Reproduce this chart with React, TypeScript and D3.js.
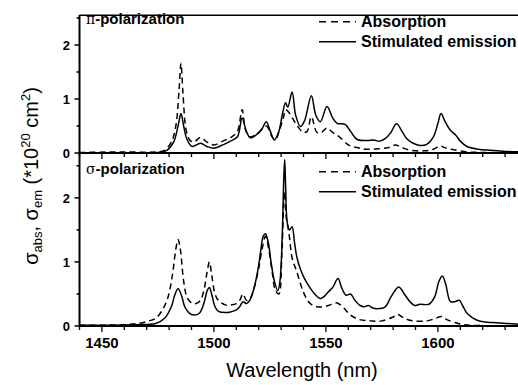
import * as d3 from 'd3';

// wavelength (nm), cross-section (1e-20 cm^2)
const piAbsorption: [number, number][] = [
  [1440, 0.01], [1460, 0.02], [1475, 0.02], [1478, 0.05], [1481, 0.2], [1483, 0.5], [1484.5, 1.2],
  [1485.3, 1.66], [1486.2, 1.1], [1487.5, 0.45], [1489, 0.25], [1491, 0.2], [1494, 0.29], [1497, 0.2],
  [1500, 0.15], [1504, 0.22], [1508, 0.3], [1510.5, 0.4], [1512.6, 0.8], [1514, 0.45], [1516, 0.3],
  [1519.3, 0.35], [1523.4, 0.5], [1526, 0.3], [1527.5, 0.25], [1529.5, 0.45], [1531, 0.65], [1532, 0.8],
  [1533.5, 0.75], [1535, 0.65], [1537.6, 0.48], [1540, 0.38], [1541.6, 0.4], [1543.5, 0.67], [1546, 0.38],
  [1548, 0.38], [1550.5, 0.46], [1553, 0.38], [1556, 0.3], [1560, 0.15], [1564, 0.1], [1568, 0.07],
  [1574, 0.08], [1578, 0.1], [1581, 0.15], [1584, 0.1], [1588, 0.05], [1594, 0.04], [1598, 0.07],
  [1601, 0.13], [1603, 0.1], [1606, 0.07], [1613, 0.02], [1620, 0.01], [1640, 0.0],
];

const piEmission: [number, number][] = [
  [1440, 0.0], [1475, 0.01], [1479, 0.05], [1482, 0.2], [1484, 0.5], [1485.3, 0.73], [1486.5, 0.5],
  [1488, 0.25], [1490.3, 0.12], [1494, 0.18], [1497, 0.12], [1500, 0.09], [1504, 0.15], [1507.4, 0.22],
  [1510.5, 0.3], [1512.6, 0.65], [1514.5, 0.4], [1516.3, 0.28], [1519.3, 0.35], [1521.5, 0.45],
  [1523.4, 0.58], [1525.2, 0.4], [1527, 0.24], [1529, 0.4], [1530.5, 0.7], [1532, 0.93], [1533, 0.85],
  [1534.9, 1.13], [1536.5, 0.7], [1538.6, 0.49], [1540.5, 0.6], [1543.5, 1.06], [1545.5, 0.7],
  [1547.5, 0.58], [1550.5, 0.86], [1553, 0.65], [1555, 0.55], [1558.6, 0.53], [1561, 0.4], [1564, 0.25],
  [1568.4, 0.23], [1571.3, 0.24], [1574, 0.22], [1576.6, 0.27], [1579, 0.38], [1581.5, 0.54], [1584, 0.4],
  [1586, 0.27], [1589, 0.18], [1592, 0.14], [1595, 0.16], [1598, 0.3], [1600, 0.55], [1601.4, 0.73],
  [1603, 0.6], [1605.6, 0.42], [1608, 0.33], [1610, 0.22], [1613, 0.12], [1618, 0.07], [1623.5, 0.05],
  [1630, 0.03], [1640, 0.02],
];

const sigmaAbsorption: [number, number][] = [
  [1440, 0.01], [1460, 0.02], [1466, 0.04], [1470, 0.07], [1474, 0.12], [1477, 0.25], [1479.5, 0.45],
  [1481.5, 0.8], [1483, 1.2], [1484, 1.35], [1485, 1.2], [1486.5, 0.7], [1488, 0.45], [1490, 0.36],
  [1492, 0.35], [1494, 0.4], [1495.5, 0.55], [1497, 0.85], [1498, 1.0], [1499, 0.8], [1500.5, 0.5],
  [1502, 0.4], [1505, 0.33], [1508, 0.33], [1510, 0.35], [1511.5, 0.4], [1513, 0.5], [1514.5, 0.4],
  [1516, 0.42], [1518, 0.6], [1520, 0.9], [1521.5, 1.2], [1523, 1.4], [1524.5, 1.2], [1526, 0.85],
  [1527.5, 0.55], [1529, 0.5], [1530.3, 1.1], [1531.5, 2.1], [1532.3, 1.7], [1533.5, 1.45], [1535, 1.05],
  [1537, 0.85], [1539, 0.62], [1541, 0.45], [1543, 0.35], [1546, 0.3], [1549, 0.3], [1552, 0.33],
  [1555, 0.36], [1558, 0.28], [1561, 0.17], [1565, 0.1], [1570, 0.08], [1575, 0.08], [1580, 0.14],
  [1582, 0.18], [1585, 0.12], [1589, 0.08], [1595, 0.08], [1599, 0.12], [1601.5, 0.15], [1604, 0.1],
  [1608, 0.05], [1612, 0.02], [1620, 0.005], [1640, 0.0],
];

const sigmaEmission: [number, number][] = [
  [1440, 0.01], [1465, 0.02], [1474, 0.04], [1478, 0.12], [1481, 0.3], [1482.5, 0.48], [1484, 0.58],
  [1485.5, 0.48], [1487, 0.3], [1489, 0.2], [1491, 0.17], [1493.5, 0.2], [1495.5, 0.35], [1497, 0.55],
  [1498, 0.6], [1499, 0.5], [1500.5, 0.3], [1502, 0.23], [1505, 0.21], [1507.4, 0.22], [1510, 0.25],
  [1511.5, 0.3], [1513, 0.38], [1514.5, 0.35], [1516, 0.4], [1518, 0.6], [1520, 0.95], [1521, 1.2],
  [1522, 1.4], [1523, 1.44], [1524.3, 1.3], [1525.5, 1.0], [1527, 0.7], [1528.5, 0.55], [1529.5, 0.7],
  [1530.5, 1.4], [1531.2, 2.3], [1531.6, 2.6], [1532, 2.2], [1532.8, 1.6], [1533.8, 1.5], [1534.9, 1.55],
  [1536, 1.3], [1537, 1.08], [1538.5, 0.9], [1540, 0.77], [1543, 0.59], [1545, 0.5], [1547.5, 0.43],
  [1549.5, 0.47], [1551, 0.53], [1553, 0.6], [1555.4, 0.74], [1557, 0.6], [1559, 0.48], [1561, 0.5],
  [1563, 0.4], [1565.3, 0.32], [1567, 0.3], [1569, 0.32], [1571, 0.28], [1573, 0.27], [1576.5, 0.3],
  [1579, 0.45], [1582.5, 0.61], [1585, 0.5], [1587.5, 0.38], [1589.6, 0.32], [1592, 0.34], [1596, 0.34],
  [1598.5, 0.45], [1600.5, 0.7], [1602, 0.78], [1603.5, 0.65], [1605.6, 0.38], [1607.5, 0.38],
  [1609.6, 0.4], [1611, 0.32], [1613, 0.2], [1617.5, 0.09], [1622, 0.06], [1626, 0.05], [1635, 0.03],
  [1640, 0.02],
];

const xTicks = [1440, 1450, 1460, 1470, 1480, 1490, 1500, 1510, 1520, 1530, 1540, 1550, 1560, 1570, 1580, 1590, 1600, 1610, 1620, 1630, 1640];
const xTickLabels = [1450, 1500, 1550, 1600];
const yTicks = [0, 0.5, 1, 1.5, 2, 2.5];
const yTickLabels = [0, 1, 2];
const legendLabels = ['Absorption', 'Stimulated emission'];

const W = 518;
const H = 385;
const left = 79.5;
const font = 'Arial, "Liberation Sans", Helvetica, sans-serif';

const x = d3.scaleLinear().domain([1440, 1640]).range([left, left + 448]);
const yTop = d3.scaleLinear().domain([0, 2.55]).range([153, 15.3]);
const yBot = d3.scaleLinear().domain([0, 2.7]).range([326, 153]);

function Panel({ y, abs, em, label, symbol, textTop }: any) {
  const line = d3.line<[number, number]>()
    .x(d => x(d[0]))
    .y(d => y(d[1]))
    .curve(d3.curveCatmullRom.alpha(0.5));
  const [y0, y1] = y.range();
  const clipId = 'clip' + Math.round(y0);
  return (
    <g>
      <clipPath id={clipId}>
        <rect x={left} y={y1} width={W - left} height={y0 - y1} />
      </clipPath>
      <g clipPath={`url(#${clipId})`}>
        <path d={line(abs) || ''} fill="none" stroke="#000" strokeWidth={1.5} strokeDasharray="6,4" />
        <path d={line(em) || ''} fill="none" stroke="#000" strokeWidth={1.5} />
      </g>
      {/* y ticks */}
      {yTicks.map(t => (
        <line key={t} x1={left} x2={left - (t % 1 === 0 ? 5 : 3)} y1={y(t)} y2={y(t)} stroke="#000" strokeWidth={1.5} />
      ))}
      {yTickLabels.map(t => (
        <text key={t} x={70} y={y(t)} dy="0.36em" textAnchor="end" fontFamily={font} fontWeight="bold" fontSize={13}>
          {t}
        </text>
      ))}
      {/* x ticks, pointing down */}
      {xTicks.map(t => (
        <line key={t} x1={x(t)} x2={x(t)} y1={y0} y2={y0 + (t % 50 === 0 ? 6 : 4)} stroke="#000" strokeWidth={1.3} />
      ))}
      <line x1={left} x2={W} y1={y0} y2={y0} stroke="#000" strokeWidth={2} />
      {/* panel label */}
      <text x={86} y={textTop + 1.5} fontFamily={font} fontWeight="bold" fontSize={15}>
        <tspan fontFamily='"DejaVu Serif", "Liberation Serif", serif' fontWeight="normal" fontSize={14}>{symbol}</tspan>
        {label}
      </text>
      {/* legend */}
      <line x1={319} x2={356} y1={textTop - 0.5} y2={textTop - 0.5} stroke="#000" strokeWidth={1.5} strokeDasharray="7,5" />
      <line x1={319} x2={356} y1={textTop + 19.5} y2={textTop + 19.5} stroke="#000" strokeWidth={1.5} />
      <text x={361} y={textTop + 5} fontFamily={font} fontWeight="bold" fontSize={16}>{legendLabels[0]}</text>
      <text x={361} y={textTop + 25} fontFamily={font} fontWeight="bold" fontSize={16}>{legendLabels[1]}</text>
    </g>
  );
}

export default function App() {
  return (
    <svg width={W} height={H} style={{ position: 'fixed', left: 0, top: 0, background: '#fff' }}>
      <rect width={W} height={H} fill="#fff" />
      <Panel y={yTop} abs={piAbsorption} em={piEmission} symbol="π" label="-polarization" textTop={22.2} />
      <Panel y={yBot} abs={sigmaAbsorption} em={sigmaEmission} symbol="σ" label="-polarization" textTop={172.2} />
      {/* frame */}
      <line x1={left} x2={W} y1={15.3} y2={15.3} stroke="#000" strokeWidth={1.5} />
      <line x1={left} x2={left} y1={15} y2={327} stroke="#000" strokeWidth={2} />
      {/* x tick labels */}
      {xTickLabels.map(t => (
        <text key={t} x={x(t)} y={348} textAnchor="middle" fontFamily={font} fontWeight="bold" fontSize={15}>
          {t}
        </text>
      ))}
      <text x={302} y={377} textAnchor="middle" fontFamily={font} fontSize={20}>Wavelength (nm)</text>
      {/* y axis title */}
      <text transform="translate(38,176) rotate(-90)" textAnchor="middle" fontFamily={font} fontSize={20}>
        σ<tspan fontSize={13} dy={4}>abs</tspan>
        <tspan dy={-4}>, σ</tspan>
        <tspan fontSize={13} dy={4}>em</tspan>
        <tspan dy={-4}> (*10</tspan>
        <tspan fontSize={13} dy={-8}>20</tspan>
        <tspan dy={8}> cm</tspan>
        <tspan fontSize={13} dy={-8}>2</tspan>
        <tspan dy={8}>)</tspan>
      </text>
    </svg>
  );
}
